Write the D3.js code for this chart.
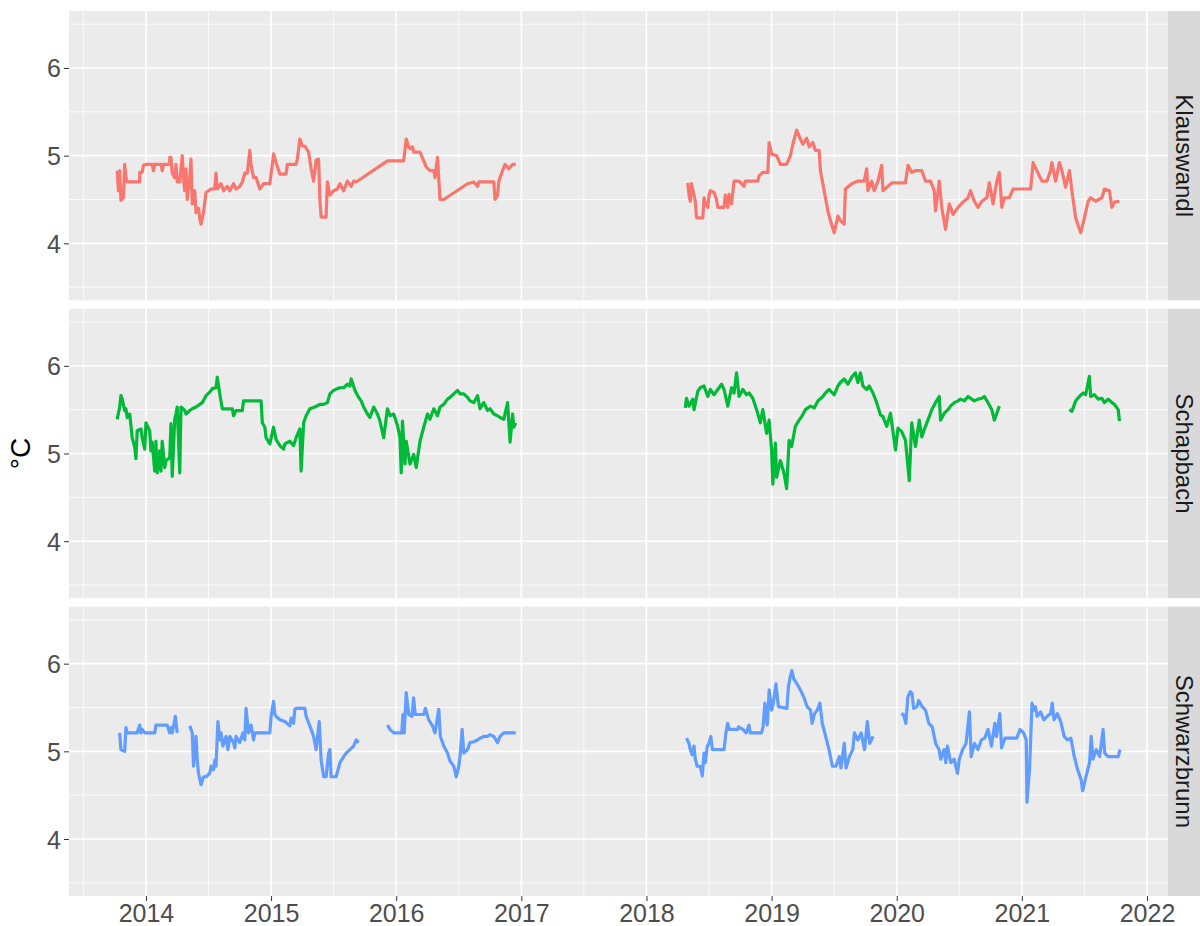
<!DOCTYPE html>
<html>
<head>
<meta charset="utf-8">
<script src="https://cdn.jsdelivr.net/npm/d3@7"></script>
<style>
  body { margin: 0; background: #fff; }
  text { font-family: "Liberation Sans", Arial, sans-serif; }
</style>
</head>
<body>
<div id="chart"></div>
<script>
// stations (facet rows) and their colours
const stations = ["Klauswandl", "Schapbach", "Schwarzbrunn"]
const colors = ["#F8766D", "#00BA38", "#619CFF"]

// x ticks (years) and y ticks (°C)
const yearTicks = [2014, 2015, 2016, 2017, 2018, 2019, 2020, 2021, 2022]
const tempTicks = [4, 5, 6]

// readings: [decimal year, °C], one inner array per continuous segment
const klauswandl = [
  [[2013.77,4.83],[2013.78,4.60],[2013.79,4.83],[2013.80,4.49],[2013.82,4.52],[2013.83,4.90],[2013.84,4.75],[2013.85,4.70],[2013.95,4.70],[2013.95,4.81],[2013.97,4.81],[2013.98,4.89],[2014.0,4.90],[2014.05,4.90],[2014.06,4.83],[2014.07,4.90],[2014.12,4.90],[2014.13,4.83],[2014.14,4.90],[2014.19,4.90],[2014.19,4.98],[2014.2,4.98],[2014.21,4.80],[2014.23,4.75],[2014.24,4.90],[2014.25,4.70],[2014.27,4.70],[2014.29,5.0],[2014.30,4.75],[2014.31,4.60],[2014.32,4.85],[2014.33,4.50],[2014.35,4.75],[2014.36,4.96],[2014.37,4.45],[2014.39,4.60],[2014.40,4.35],[2014.42,4.40],[2014.43,4.28],[2014.44,4.22],[2014.46,4.35],[2014.48,4.58],[2014.52,4.62],[2014.55,4.62],[2014.56,4.80],[2014.57,4.62],[2014.60,4.68],[2014.62,4.60],[2014.65,4.65],[2014.67,4.60],[2014.70,4.68],[2014.72,4.62],[2014.75,4.65],[2014.77,4.70],[2014.79,4.80],[2014.81,4.80],[2014.83,5.06],[2014.84,4.90],[2014.86,4.75],[2014.88,4.75],[2014.91,4.62],[2014.94,4.68],[2014.99,4.68],[2015.01,4.90],[2015.02,5.02],[2015.04,4.92],[2015.07,4.79],[2015.12,4.79],[2015.13,4.90],[2015.2,4.90],[2015.21,4.96],[2015.23,5.19],[2015.25,5.11],[2015.27,5.11],[2015.30,5.04],[2015.32,4.85],[2015.34,4.71],[2015.36,4.95],[2015.38,4.96],[2015.39,4.5],[2015.40,4.30],[2015.44,4.30],[2015.45,4.70],[2015.47,4.55],[2015.50,4.60],[2015.53,4.62],[2015.55,4.68],[2015.58,4.60],[2015.61,4.71],[2015.64,4.65],[2015.66,4.71],[2015.68,4.70],[2015.93,4.94],[2016.06,4.94],[2016.08,5.19],[2016.10,5.10],[2016.11,5.08],[2016.13,5.10],[2016.14,5.04],[2016.19,5.04],[2016.22,4.94],[2016.24,4.87],[2016.27,4.83],[2016.30,4.83],[2016.31,4.75],[2016.33,4.98],[2016.35,4.50],[2016.38,4.50],[2016.57,4.68],[2016.62,4.70],[2016.65,4.65],[2016.66,4.70],[2016.78,4.70],[2016.79,4.50],[2016.81,4.55],[2016.82,4.71],[2016.85,4.83],[2016.87,4.90],[2016.90,4.85],[2016.93,4.90],[2016.955,4.90]],
  [[2018.33,4.69],[2018.34,4.55],[2018.35,4.48],[2018.36,4.68],[2018.38,4.55],[2018.39,4.48],[2018.40,4.29],[2018.45,4.29],[2018.46,4.52],[2018.47,4.45],[2018.49,4.41],[2018.50,4.55],[2018.51,4.60],[2018.54,4.58],[2018.56,4.50],[2018.57,4.41],[2018.62,4.41],[2018.63,4.55],[2018.65,4.41],[2018.66,4.56],[2018.68,4.45],[2018.70,4.71],[2018.74,4.71],[2018.78,4.65],[2018.79,4.71],[2018.89,4.71],[2018.90,4.77],[2018.93,4.81],[2018.97,4.81],[2018.98,5.15],[2019.0,5.02],[2019.04,5.0],[2019.07,4.90],[2019.12,4.90],[2019.15,5.0],[2019.17,5.13],[2019.20,5.29],[2019.23,5.19],[2019.25,5.13],[2019.28,5.20],[2019.30,5.10],[2019.33,5.15],[2019.35,5.06],[2019.38,5.06],[2019.39,4.83],[2019.42,4.60],[2019.45,4.37],[2019.47,4.26],[2019.50,4.12],[2019.53,4.31],[2019.55,4.26],[2019.58,4.22],[2019.59,4.62],[2019.64,4.68],[2019.69,4.71],[2019.74,4.71],[2019.76,4.85],[2019.77,4.60],[2019.80,4.71],[2019.82,4.60],[2019.85,4.71],[2019.88,4.89],[2019.89,4.60],[2019.96,4.69],[2020.07,4.69],[2020.09,4.89],[2020.12,4.81],[2020.15,4.83],[2020.20,4.83],[2020.23,4.71],[2020.27,4.71],[2020.30,4.60],[2020.31,4.37],[2020.34,4.71],[2020.36,4.41],[2020.39,4.16],[2020.42,4.45],[2020.45,4.33],[2020.49,4.41],[2020.53,4.47],[2020.57,4.52],[2020.59,4.60],[2020.62,4.48],[2020.65,4.41],[2020.68,4.48],[2020.72,4.52],[2020.74,4.69],[2020.77,4.45],[2020.80,4.71],[2020.82,4.81],[2020.84,4.41],[2020.86,4.52],[2020.90,4.52],[2020.93,4.62],[2021.07,4.62],[2021.09,4.92],[2021.12,4.83],[2021.16,4.71],[2021.20,4.71],[2021.23,4.83],[2021.24,4.92],[2021.27,4.71],[2021.30,4.92],[2021.32,4.83],[2021.35,4.64],[2021.38,4.83],[2021.40,4.60],[2021.43,4.29],[2021.47,4.12],[2021.50,4.29],[2021.53,4.48],[2021.55,4.52],[2021.59,4.48],[2021.64,4.52],[2021.66,4.62],[2021.70,4.60],[2021.72,4.41],[2021.74,4.47],[2021.78,4.48]]
]

const schapbach = [
  [[2013.77,5.39],[2013.79,5.53],[2013.80,5.66],[2013.81,5.62],[2013.83,5.49],[2013.84,5.51],[2013.85,5.41],[2013.87,5.45],[2013.88,5.32],[2013.89,5.18],[2013.91,5.07],[2013.92,4.94],[2013.93,5.26],[2013.96,5.28],[2013.97,5.18],[2013.99,5.05],[2014.0,5.35],[2014.03,5.26],[2014.04,5.03],[2014.05,5.13],[2014.07,4.80],[2014.08,5.14],[2014.09,4.78],[2014.11,5.03],[2014.12,4.80],[2014.13,5.14],[2014.15,4.84],[2014.16,4.92],[2014.19,4.95],[2014.20,5.34],[2014.21,4.74],[2014.23,5.39],[2014.24,5.45],[2014.25,5.53],[2014.27,4.78],[2014.28,5.53],[2014.31,5.49],[2014.32,5.45],[2014.35,5.49],[2014.37,5.51],[2014.40,5.53],[2014.43,5.56],[2014.45,5.58],[2014.48,5.66],[2014.51,5.70],[2014.53,5.74],[2014.56,5.75],[2014.57,5.87],[2014.59,5.68],[2014.61,5.51],[2014.69,5.51],[2014.70,5.43],[2014.72,5.49],[2014.77,5.49],[2014.78,5.60],[2014.92,5.60],[2014.93,5.35],[2014.95,5.30],[2014.96,5.18],[2014.99,5.11],[2015.02,5.30],[2015.04,5.16],[2015.07,5.09],[2015.10,5.05],[2015.11,5.11],[2015.15,5.14],[2015.18,5.09],[2015.20,5.18],[2015.23,5.28],[2015.24,4.80],[2015.26,5.35],[2015.28,5.43],[2015.31,5.51],[2015.35,5.53],[2015.39,5.56],[2015.42,5.56],[2015.45,5.58],[2015.47,5.68],[2015.50,5.72],[2015.53,5.74],[2015.55,5.75],[2015.58,5.75],[2015.61,5.79],[2015.63,5.77],[2015.64,5.85],[2015.67,5.72],[2015.70,5.64],[2015.72,5.60],[2015.74,5.53],[2015.77,5.45],[2015.79,5.41],[2015.82,5.53],[2015.85,5.45],[2015.87,5.37],[2015.90,5.18],[2015.93,5.51],[2015.95,5.43],[2015.98,5.45],[2016.01,5.32],[2016.03,5.18],[2016.04,4.78],[2016.05,5.37],[2016.07,4.88],[2016.08,5.14],[2016.11,4.88],[2016.14,4.99],[2016.16,4.84],[2016.19,5.14],[2016.22,5.30],[2016.25,5.45],[2016.27,5.39],[2016.30,5.51],[2016.33,5.43],[2016.35,5.53],[2016.38,5.56],[2016.41,5.62],[2016.43,5.64],[2016.46,5.68],[2016.49,5.72],[2016.51,5.68],[2016.54,5.68],[2016.57,5.64],[2016.59,5.60],[2016.62,5.58],[2016.65,5.66],[2016.67,5.51],[2016.70,5.58],[2016.73,5.49],[2016.75,5.51],[2016.78,5.45],[2016.81,5.43],[2016.83,5.41],[2016.86,5.39],[2016.89,5.58],[2016.91,5.13],[2016.93,5.45],[2016.94,5.30],[2016.955,5.35]],
  [[2018.31,5.52],[2018.32,5.63],[2018.34,5.54],[2018.37,5.62],[2018.38,5.50],[2018.41,5.71],[2018.43,5.75],[2018.46,5.77],[2018.49,5.65],[2018.51,5.73],[2018.54,5.67],[2018.57,5.73],[2018.60,5.79],[2018.62,5.73],[2018.65,5.54],[2018.68,5.75],[2018.70,5.69],[2018.72,5.92],[2018.74,5.65],[2018.77,5.73],[2018.80,5.67],[2018.82,5.69],[2018.85,5.63],[2018.88,5.50],[2018.91,5.35],[2018.93,5.50],[2018.96,5.23],[2018.98,5.38],[2019.0,5.04],[2019.01,4.65],[2019.03,5.12],[2019.04,4.73],[2019.07,4.92],[2019.10,4.77],[2019.12,4.60],[2019.14,5.15],[2019.16,5.08],[2019.19,5.31],[2019.22,5.38],[2019.24,5.42],[2019.27,5.50],[2019.31,5.54],[2019.34,5.52],[2019.37,5.60],[2019.41,5.65],[2019.43,5.69],[2019.46,5.73],[2019.50,5.67],[2019.53,5.77],[2019.55,5.81],[2019.58,5.85],[2019.61,5.79],[2019.64,5.87],[2019.67,5.92],[2019.69,5.81],[2019.71,5.92],[2019.73,5.77],[2019.76,5.73],[2019.78,5.77],[2019.81,5.69],[2019.84,5.58],[2019.87,5.44],[2019.89,5.42],[2019.92,5.31],[2019.95,5.46],[2019.97,5.25],[2019.99,5.04],[2020.01,5.29],[2020.04,5.25],[2020.07,5.15],[2020.10,4.69],[2020.12,5.35],[2020.15,5.08],[2020.18,5.38],[2020.20,5.19],[2020.23,5.31],[2020.26,5.42],[2020.28,5.50],[2020.31,5.58],[2020.34,5.65],[2020.35,5.38],[2020.38,5.46],[2020.41,5.50],[2020.43,5.54],[2020.46,5.58],[2020.49,5.60],[2020.51,5.62],[2020.54,5.60],[2020.57,5.65],[2020.60,5.62],[2020.62,5.60],[2020.65,5.62],[2020.68,5.63],[2020.70,5.65],[2020.73,5.58],[2020.76,5.50],[2020.78,5.38],[2020.80,5.46],[2020.82,5.54]],
  [[2021.38,5.50],[2021.40,5.48],[2021.43,5.60],[2021.46,5.65],[2021.49,5.69],[2021.51,5.67],[2021.54,5.88],[2021.55,5.65],[2021.58,5.67],[2021.61,5.62],[2021.64,5.63],[2021.66,5.58],[2021.69,5.62],[2021.72,5.58],[2021.74,5.56],[2021.77,5.50],[2021.78,5.37]]
]

const schwarzbrunn = [
  [[2013.79,5.21],[2013.80,5.02],[2013.83,5.0],[2013.84,5.27],[2013.85,5.21],[2013.93,5.21],[2013.95,5.30],[2013.96,5.21],[2013.97,5.25],[2013.99,5.21],[2014.07,5.21],[2014.08,5.30],[2014.17,5.30],[2014.19,5.21],[2014.20,5.27],[2014.21,5.21],[2014.235,5.40],[2014.25,5.21]],
  [[2014.35,5.29],[2014.37,5.21],[2014.38,4.83],[2014.40,5.17],[2014.41,4.90],[2014.42,4.75],[2014.44,4.62],[2014.46,4.71],[2014.48,4.71],[2014.51,4.75],[2014.52,4.83],[2014.54,4.79],[2014.55,4.90],[2014.56,4.83],[2014.575,5.34],[2014.59,5.13],[2014.60,5.21],[2014.615,5.06],[2014.64,5.17],[2014.655,5.02],[2014.67,5.17],[2014.70,5.10],[2014.71,5.04],[2014.72,5.17],[2014.75,5.10],[2014.775,5.21],[2014.79,5.13],[2014.80,5.49],[2014.82,5.21],[2014.84,5.30],[2014.86,5.13],[2014.87,5.21],[2014.99,5.21],[2015.00,5.40],[2015.02,5.57],[2015.03,5.42],[2015.04,5.40],[2015.07,5.36],[2015.11,5.34],[2015.15,5.29],[2015.16,5.38],[2015.18,5.32],[2015.19,5.48],[2015.20,5.49],[2015.27,5.49],[2015.28,5.40],[2015.31,5.29],[2015.34,5.17],[2015.36,5.02],[2015.385,5.34],[2015.40,4.90],[2015.42,4.71],[2015.44,4.71],[2015.46,4.98],[2015.47,5.02],[2015.48,4.71],[2015.52,4.71],[2015.55,4.87],[2015.58,4.94],[2015.60,4.98],[2015.63,5.02],[2015.66,5.06],[2015.68,5.13],[2015.70,5.10]],
  [[2015.93,5.30],[2015.95,5.25],[2015.98,5.21],[2016.045,5.21],[2016.053,5.42],[2016.064,5.21],[2016.08,5.67],[2016.10,5.42],[2016.126,5.40],[2016.139,5.61],[2016.152,5.42],[2016.22,5.42],[2016.233,5.49],[2016.26,5.36],[2016.29,5.29],[2016.31,5.21],[2016.34,5.48],[2016.353,5.17],[2016.38,5.06],[2016.41,4.98],[2016.43,4.89],[2016.46,4.83],[2016.48,4.71],[2016.50,4.83],[2016.51,4.94],[2016.527,5.25],[2016.54,4.98],[2016.57,5.02],[2016.59,5.10],[2016.62,5.11],[2016.65,5.13],[2016.67,5.15],[2016.70,5.17],[2016.73,5.17],[2016.75,5.19],[2016.78,5.17],[2016.81,5.10],[2016.83,5.17],[2016.86,5.21],[2016.955,5.21]],
  [[2018.32,5.15],[2018.34,5.09],[2018.35,5.02],[2018.365,4.96],[2018.38,5.06],[2018.39,4.91],[2018.405,4.83],[2018.43,4.83],[2018.446,4.72],[2018.46,4.98],[2018.47,4.87],[2018.486,5.06],[2018.50,5.09],[2018.514,5.17],[2018.527,5.02],[2018.62,5.02],[2018.635,5.21],[2018.649,5.32],[2018.662,5.25],[2018.73,5.25],[2018.735,5.28],[2018.77,5.25],[2018.797,5.21],[2018.819,5.30],[2018.83,5.21],[2018.919,5.21],[2018.932,5.28],[2018.946,5.55],[2018.965,5.30],[2018.981,5.70],[2019.0,5.47],[2019.014,5.55],[2019.035,5.77],[2019.054,5.51],[2019.122,5.49],[2019.135,5.74],[2019.149,5.85],[2019.162,5.92],[2019.176,5.83],[2019.203,5.77],[2019.23,5.70],[2019.257,5.62],[2019.284,5.51],[2019.311,5.47],[2019.324,5.32],[2019.343,5.43],[2019.365,5.47],[2019.386,5.55],[2019.405,5.32],[2019.432,5.17],[2019.459,5.02],[2019.486,4.83],[2019.514,4.83],[2019.541,4.94],[2019.554,4.81],[2019.581,5.09],[2019.595,4.81],[2019.622,4.94],[2019.649,5.02],[2019.662,5.21],[2019.689,5.13],[2019.716,5.21],[2019.743,5.02],[2019.765,5.34],[2019.784,5.09],[2019.811,5.17]],
  [[2020.035,5.43],[2020.054,5.42],[2020.073,5.32],[2020.089,5.62],[2020.108,5.68],[2020.122,5.66],[2020.135,5.49],[2020.162,5.51],[2020.176,5.58],[2020.203,5.51],[2020.23,5.47],[2020.257,5.32],[2020.284,5.28],[2020.311,5.09],[2020.338,5.02],[2020.351,4.91],[2020.378,5.02],[2020.392,4.87],[2020.405,5.06],[2020.432,4.87],[2020.459,4.91],[2020.486,4.75],[2020.50,4.91],[2020.527,5.02],[2020.554,5.09],[2020.581,5.45],[2020.595,4.94],[2020.622,5.09],[2020.649,5.02],[2020.676,5.13],[2020.703,5.15],[2020.73,5.25],[2020.757,5.06],[2020.784,5.32],[2020.797,5.17],[2020.824,5.43],[2020.838,5.04],[2020.865,5.15],[2020.959,5.15],[2020.986,5.25],[2021.014,5.21],[2021.035,5.13],[2021.041,4.42],[2021.062,4.81],[2021.081,5.55],[2021.095,5.47],[2021.108,5.51],[2021.122,5.40],[2021.149,5.45],[2021.176,5.36],[2021.203,5.40],[2021.23,5.43],[2021.243,5.55],[2021.257,5.36],[2021.284,5.43],[2021.311,5.34],[2021.338,5.17],[2021.365,5.13],[2021.392,5.15],[2021.419,4.94],[2021.446,4.79],[2021.473,4.68],[2021.486,4.55],[2021.514,4.72],[2021.541,4.87],[2021.554,5.17],[2021.568,4.91],[2021.595,5.02],[2021.622,4.94],[2021.649,5.25],[2021.662,4.98],[2021.689,4.94],[2021.77,4.94],[2021.784,5.02]]
]

const series = [klauswandl, schapbach, schwarzbrunn]

const dimensions = {
  width: 1200,
  height: 926,
  margin: { top: 11, bottom: 30, left: 69, right: 32 },
  gap: 8.5,
  strip: 32
}
dimensions.ctrWidth = dimensions.width - dimensions.margin.left - dimensions.margin.right
dimensions.panelHeight = (dimensions.height - dimensions.margin.top - dimensions.margin.bottom - 2 * dimensions.gap) / 3

const svg = d3.select('#chart')
  .append('svg')
  .attr('width', dimensions.width)
  .attr('height', dimensions.height)

// scales
const xScale = d3.scaleLinear()
  .domain([2013.385, 2022.168])
  .range([0, dimensions.ctrWidth])

const yScale = d3.scaleLinear()
  .domain([3.35, 6.65])
  .range([dimensions.panelHeight, 0])

const line = d3.line()
  .x(d => xScale(d[0]))
  .y(d => yScale(d[1]))

const minorX = d3.range(2013.5, 2022.5, 1)
const minorY = [3.5, 4.5, 5.5, 6.5]

stations.forEach((name, i) => {
  const top = dimensions.margin.top + i * (dimensions.panelHeight + dimensions.gap)
  const ctr = svg.append('g')
    .attr('transform', `translate(${dimensions.margin.left}, ${top})`)

  // panel background
  ctr.append('rect')
    .attr('width', dimensions.ctrWidth)
    .attr('height', dimensions.panelHeight)
    .attr('fill', '#EBEBEB')

  // minor grid
  ctr.selectAll('.minor-x')
    .data(minorX)
    .join('line')
    .attr('x1', d => xScale(d)).attr('x2', d => xScale(d))
    .attr('y1', 0).attr('y2', dimensions.panelHeight)
    .attr('stroke', '#fff').attr('stroke-width', 0.8)
  ctr.selectAll('.minor-y')
    .data(minorY)
    .join('line')
    .attr('y1', d => yScale(d)).attr('y2', d => yScale(d))
    .attr('x1', 0).attr('x2', dimensions.ctrWidth)
    .attr('stroke', '#fff').attr('stroke-width', 0.8)

  // major grid
  ctr.append('g').selectAll('line')
    .data(yearTicks)
    .join('line')
    .attr('x1', d => xScale(d)).attr('x2', d => xScale(d))
    .attr('y1', 0).attr('y2', dimensions.panelHeight)
    .attr('stroke', '#fff').attr('stroke-width', 1.6)
  ctr.append('g').selectAll('line')
    .data(tempTicks)
    .join('line')
    .attr('y1', d => yScale(d)).attr('y2', d => yScale(d))
    .attr('x1', 0).attr('x2', dimensions.ctrWidth)
    .attr('stroke', '#fff').attr('stroke-width', 1.6)

  // y axis
  const yAxis = d3.axisLeft(yScale)
    .tickValues(tempTicks)
    .tickFormat(d3.format('d'))
    .tickSize(5)
    .tickPadding(3)
  const yAxisGroup = ctr.append('g').call(yAxis)
  yAxisGroup.select('.domain').remove()
  yAxisGroup.selectAll('line').attr('stroke', '#333333').attr('stroke-width', 1)
  yAxisGroup.selectAll('text')
    .attr('fill', '#4D4D4D')
    .style('font-size', '25px')
    .attr('dy', '0.36em')

  // the series
  ctr.append('g').selectAll('path')
    .data(series[i])
    .join('path')
    .attr('d', line)
    .attr('fill', 'none')
    .attr('stroke', colors[i])
    .attr('stroke-width', 3.2)
    .attr('stroke-linejoin', 'round')

  // strip on the right
  const strip = ctr.append('g')
    .attr('transform', `translate(${dimensions.ctrWidth}, 0)`)
  strip.append('rect')
    .attr('width', dimensions.strip)
    .attr('height', dimensions.panelHeight)
    .attr('fill', '#D9D9D9')
  strip.append('text')
    .attr('transform', `translate(${dimensions.strip / 2 + 0.5}, ${dimensions.panelHeight / 2}) rotate(90)`)
    .attr('text-anchor', 'middle')
    .attr('dy', '0.35em')
    .attr('fill', '#1A1A1A')
    .style('font-size', '24px')
    .text(name)

  // x axis only below the last panel
  if (i === stations.length - 1) {
    const xAxis = d3.axisBottom(xScale)
      .tickValues(yearTicks)
      .tickFormat(d3.format('d'))
      .tickSize(5)
      .tickPadding(3)
    const xAxisGroup = ctr.append('g')
      .attr('transform', `translate(0, ${dimensions.panelHeight})`)
      .call(xAxis)
    xAxisGroup.select('.domain').remove()
    xAxisGroup.selectAll('line').attr('stroke', '#333333').attr('stroke-width', 1)
    xAxisGroup.selectAll('text')
      .attr('fill', '#4D4D4D')
      .style('font-size', '25px')
  }
})

// y axis title
svg.append('text')
  .attr('transform', `translate(20, ${dimensions.margin.top + 1.5 * dimensions.panelHeight + dimensions.gap}) rotate(-90)`)
  .attr('text-anchor', 'middle')
  .attr('dy', '0.35em')
  .attr('fill', '#000')
  .style('font-size', '28px')
  .text('°C')
</script>
</body>
</html>
